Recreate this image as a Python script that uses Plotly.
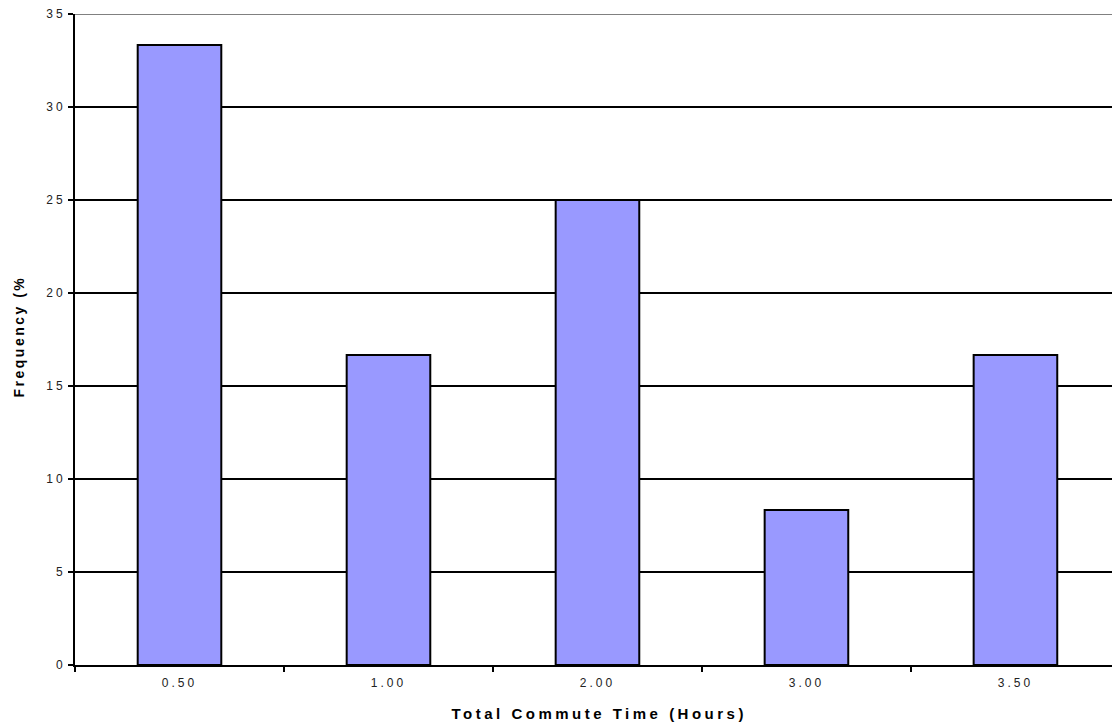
import plotly.graph_objects as go

# Commute-time histogram (percent of respondents per bin)
categories = ["0.50", "1.00", "2.00", "3.00", "3.50"]
frequency = [33.33, 16.67, 25.0, 8.33, 16.67]
y_ticks = [0, 5, 10, 15, 20, 25, 30, 35]

FONT = "Arial, Liberation Sans, sans-serif"

fig = go.Figure(
    go.Bar(
        x=categories,
        y=frequency,
        marker=dict(color="#9999FF", line=dict(color="black", width=2)),
        width=0.4,
    )
)

fig.update_layout(
    width=1112,
    height=726,
    margin=dict(l=75, r=0, t=14, b=61),
    paper_bgcolor="white",
    plot_bgcolor="white",
    showlegend=False,
    font=dict(family=FONT, size=12, color="black"),
    bargap=0.6,
)

fig.update_xaxes(
    type="category",
    range=[-0.5, 4.462],
    showgrid=False,
    showline=True,
    linecolor="black",
    linewidth=2,
    ticks="outside",
    tickson="boundaries",
    ticklen=5,
    tickwidth=2,
    tickcolor="black",
    ticklabelstandoff=6,
    tickfont=dict(family=FONT, size=12, color="#222"),
)

fig.update_yaxes(
    range=[0, 35],
    tickvals=y_ticks,
    showgrid=True,
    gridcolor="black",
    gridwidth=2,
    zeroline=False,
    showline=True,
    linecolor="black",
    linewidth=2,
    ticks="outside",
    ticklen=5,
    tickwidth=2,
    tickcolor="black",
    ticklabelstandoff=0,
    tickfont=dict(family=FONT, size=12, color="#222"),
)

# grey plot-area border along the top
fig.add_shape(
    type="line", xref="paper", yref="y", x0=0, x1=1, y0=35, y1=35,
    line=dict(color="#808080", width=2), layer="above",
)

fig.add_annotation(
    text="<b>Total Commute Time (Hours)</b>",
    xref="x", yref="paper", x=2, y=0, yanchor="middle", yshift=-48, xshift=2,
    showarrow=False, font=dict(family=FONT, size=15, color="black"),
)
fig.add_annotation(
    text="<b>Frequency (%</b>",
    xref="paper", yref="paper", x=0, y=0.5, xanchor="center", yanchor="middle",
    xshift=-57, yshift=3, textangle=-90,
    showarrow=False, font=dict(family=FONT, size=14, color="black"),
)

# widen the character spacing of tick labels and titles
spacing_js = """
var gd = document.getElementById('{plot_id}');
function spaceText() {
  gd.querySelectorAll('.xtick text').forEach(function (t) { t.style.letterSpacing = '3px'; });
  gd.querySelectorAll('.ytick text').forEach(function (t) { t.style.letterSpacing = '3px'; });
  var ann = gd.querySelectorAll('.annotation-text');
  if (ann[0]) ann[0].style.letterSpacing = '3.5px';
  if (ann[1]) ann[1].style.letterSpacing = '2.5px';
}
spaceText();
gd.on('plotly_afterplot', spaceText);
"""

fig.write_html("out.html", post_script=spacing_js)
